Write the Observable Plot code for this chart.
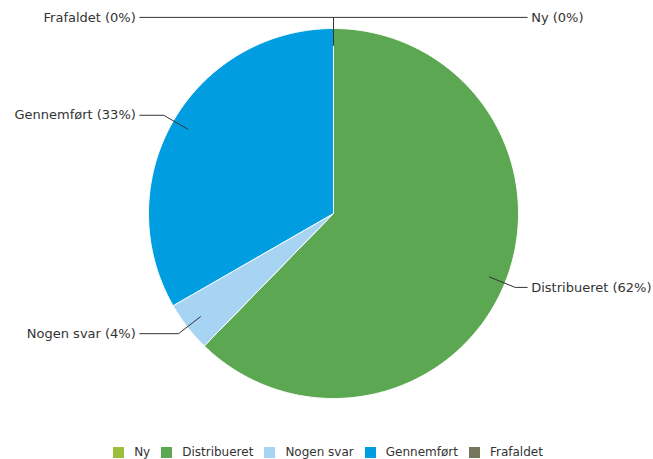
<!DOCTYPE html>
<html>
<head>
<meta charset="utf-8">
<script src="https://cdn.jsdelivr.net/npm/d3@7"></script>
<script src="https://cdn.jsdelivr.net/npm/@observablehq/plot@0.6"></script>
<style>
  body { margin: 0; background: #fff; font-family: "DejaVu Sans", Verdana, sans-serif; }
  #legend { display: flex; justify-content: center; align-items: center; height: 18px; margin-top: 3px; font-size: 12px; color: #333; padding-left: 3px;}
  #legend .item { display: flex; align-items: center; margin: 0 5.5px; }
  #legend .sw { width: 11px; height: 11px; margin-right: 10px; }
</style>
</head>
<body>
<div id="chart"></div>
<div id="legend"></div>
<script>
const categories = ["Ny", "Distribueret", "Nogen svar", "Gennemført", "Frafaldet"];
const values = [0, 62.3, 4.4, 33.3, 0];
const colors = ["#9dbe3a", "#5ca751", "#a8d4f4", "#009ee0", "#76765e"];

const W = 653, H = 440, cx = 333, cy = 213, R = 185;
const total = d3.sum(values);

// angles clockwise from top, in radians
let acc = 0;
const slices = categories.map((c, i) => {
  const a0 = acc / total * 2 * Math.PI;
  acc += values[i];
  const a1 = acc / total * 2 * Math.PI;
  return {category: c, value: values[i], a0, a1, mid: (a0 + a1) / 2,
          pct: Math.round(values[i] / total * 100)};
});

const pt = (a, r) => [Math.sin(a) * r, Math.cos(a) * r];

// slice polygons
const poly = [];
for (const s of slices) {
  if (s.value <= 0) continue;
  poly.push({category: s.category, x: 0, y: 0});
  const n = Math.max(2, Math.ceil((s.a1 - s.a0) / (Math.PI / 360)));
  for (let k = 0; k <= n; k++) {
    const [x, y] = pt(s.a0 + (s.a1 - s.a0) * k / n, 1);
    poly.push({category: s.category, x, y});
  }
  poly.push({category: s.category, x: 0, y: 0});
}

// leader lines and labels
const leaders = [], labels = [];
const xEnd = 1.047;
for (const s of slices) {
  const right = s.mid < Math.PI;
  const [x0, y0] = pt(s.mid, 0.91);
  const [x1, y1] = pt(s.mid, 1.06);
  const x2 = right ? xEnd : -xEnd;
  leaders.push({category: s.category, x: x0, y: y0});
  leaders.push({category: s.category, x: x1, y: y1});
  leaders.push({category: s.category, x: x2, y: y1});
  labels.push({x: x2, y: y1, right, text: `${s.category} (${s.pct}%)`});
}

const plot = Plot.plot({
  width: W, height: H, margin: 0,
  x: {domain: [-cx / R, (W - cx) / R], axis: null},
  y: {domain: [-(H - cy) / R, cy / R], axis: null},
  color: {domain: categories, range: colors},
  style: {fontFamily: "DejaVu Sans, Verdana, sans-serif", background: "#fff"},
  marks: [
    Plot.line(poly, {x: "x", y: "y", z: "category", fill: "category", stroke: "#fff", strokeWidth: 1, curve: "linear"}),
    Plot.line(leaders, {x: "x", y: "y", z: "category", stroke: "#333", strokeWidth: 1}),
    Plot.text(labels.filter(d => d.right), {x: "x", y: "y", text: "text", textAnchor: "start", dx: 4, fontSize: 13, fill: "#333"}),
    Plot.text(labels.filter(d => !d.right), {x: "x", y: "y", text: "text", textAnchor: "end", dx: -4, fontSize: 13, fill: "#333"})
  ]
});
document.getElementById("chart").appendChild(plot);

const legend = document.getElementById("legend");
categories.forEach((c, i) => {
  const it = document.createElement("div");
  it.className = "item";
  const sw = document.createElement("div");
  sw.className = "sw";
  sw.style.background = colors[i];
  const t = document.createElement("span");
  t.textContent = c;
  it.appendChild(sw); it.appendChild(t);
  legend.appendChild(it);
});
</script>
</body>
</html>
